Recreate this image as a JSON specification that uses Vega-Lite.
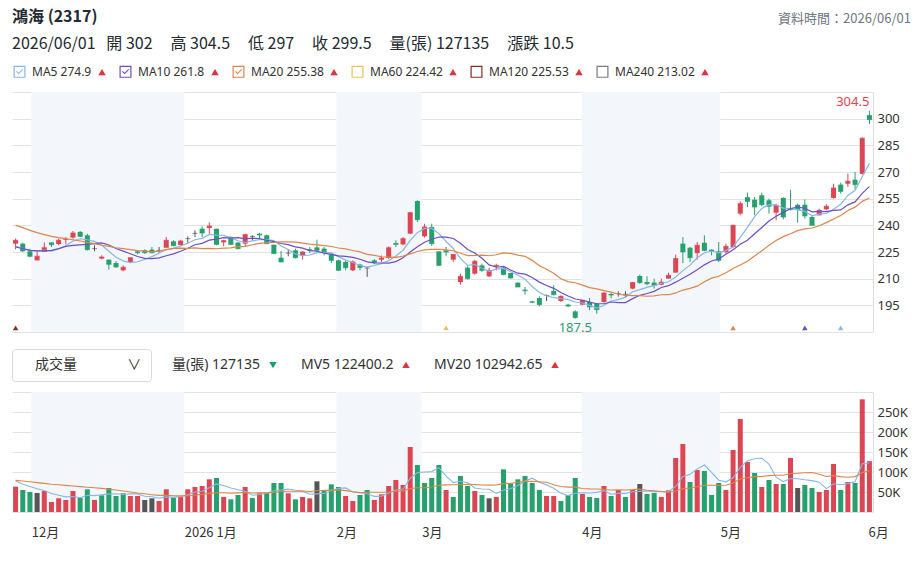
{
"$schema": "https://vega.github.io/schema/vega-lite/v6.json",
"background": "#ffffff",
"padding": {"left": 11, "top": 9, "right": 2, "bottom": 2},
"config": {"font": "Noto Sans CJK TC", "view": {"stroke": null}, "axis": {"labelFont": "Noto Sans", "labelColor": "#333333", "labelFontSize": 13}},
"title": {"text": "鴻海 (2317)", "subtitle": "2026/06/01\u00a0\u00a0\u00a0開 302\u00a0\u00a0\u00a0\u00a0\u00a0高 304.5\u00a0\u00a0\u00a0\u00a0\u00a0低 297\u00a0\u00a0\u00a0\u00a0\u00a0收 299.5\u00a0\u00a0\u00a0\u00a0\u00a0量(張) 127135\u00a0\u00a0\u00a0\u00a0\u00a0漲跌 10.5", "anchor": "start", "frame": "group", "fontSize": 16, "fontWeight": "bold", "color": "#232a31", "subtitleFontSize": 16, "subtitleColor": "#232a31", "subtitlePadding": 11, "offset": -39},
"bounds": "flush",
"spacing": 60,
"resolve": {"scale": {"color": "independent", "fill": "independent", "opacity": "independent", "shape": "independent"}, "legend": {"color": "independent", "opacity": "independent", "shape": "independent"}},
"datasets": {
"bands": [{"i": 2.2, "e": 23.5}, {"i": 44.7, "e": 56.6}, {"i": 78.9, "e": 98.2}],
"tri": [{"i": 0, "ma": "MA120"}, {"i": 60, "ma": "MA60"}, {"i": 100, "ma": "MA20"}, {"i": 110, "ma": "MA10"}, {"i": 115, "ma": "MA5"}],
"ext": [{"i": 119, "p": 304.5, "t": "304.5", "k": "hi"}, {"i": 78, "p": 187.5, "t": "187.5", "k": "lo"}],
"mah": [{"t": "MA5 274.9"}, {"t": "▲a"}, {"t": "MA10 261.8"}, {"t": "▲b"}, {"t": "MA20 255.38"}, {"t": "▲c"}, {"t": "MA60 224.42"}, {"t": "▲d"}, {"t": "MA120 225.53"}, {"t": "▲e"}, {"t": "MA240 213.02"}, {"t": "▲f"}],
"mvh": [{"t": "量(張) 127135"}, {"t": "MV5 122400.2"}, {"t": "MV20 102942.65"}, {"t": "▲"}],
"d": [
{"i":0,"o":229.7,"h":232.5,"l":226.5,"c":231.6,"v":63300,"vd":1,"MA5":228.4,"MA10":227.8,"MA20":240.0,"MV5":77500,"MV20":79000},
{"i":1,"o":229.7,"h":230.2,"l":225.0,"c":225.6,"v":55000,"vd":-1,"MA5":226.9,"MA10":226.9,"MA20":238.7,"MV5":70000,"MV20":77500},
{"i":2,"o":225.4,"h":226.9,"l":222.0,"c":222.6,"v":50000,"vd":-1,"MA5":225.9,"MA10":225.9,"MA20":237.2,"MV5":64000,"MV20":75500},
{"i":3,"o":220.3,"h":225.6,"l":220.3,"c":222.6,"v":47500,"vd":0,"MA5":225.6,"MA10":225.6,"MA20":235.9,"MV5":58000,"MV20":73500},
{"i":4,"o":225.0,"h":230.4,"l":225.0,"c":227.4,"v":52500,"vd":1,"MA5":225.96,"MA10":225.6,"MA20":234.8,"MV5":53700,"MV20":71500},
{"i":5,"o":230.4,"h":230.4,"l":227.8,"c":229.1,"v":25000,"vd":1,"MA5":225.46,"MA10":225.9,"MA20":233.8,"MV5":46000,"MV20":69500},
{"i":6,"o":229.5,"h":232.5,"l":228.8,"c":231.6,"v":34200,"vd":1,"MA5":226.66,"MA10":226.9,"MA20":233.1,"MV5":41800,"MV20":68000},
{"i":7,"o":231.8,"h":233.4,"l":229.3,"c":232.1,"v":30000,"vd":1,"MA5":228.56,"MA10":228.2,"MA20":232.5,"MV5":37800,"MV20":66500},
{"i":8,"o":233.1,"h":236.8,"l":232.5,"c":235.7,"v":52500,"vd":1,"MA5":231.18,"MA10":228.7,"MA20":231.9,"MV5":38800,"MV20":65000},
{"i":9,"o":236.3,"h":236.8,"l":233.4,"c":233.8,"v":35800,"vd":-1,"MA5":232.46,"MA10":228.96,"MA20":231.2,"MV5":35500,"MV20":63500},
{"i":10,"o":234.4,"h":235.3,"l":225.9,"c":226.3,"v":56700,"vd":-1,"MA5":231.9,"MA10":229.28,"MA20":230.4,"MV5":41800,"MV20":62000},
{"i":11,"o":226.9,"h":228.8,"l":225.4,"c":226.9,"v":30000,"vd":1,"MA5":230.96,"MA10":229.76,"MA20":229.7,"MV5":41000,"MV20":60500},
{"i":12,"o":221.3,"h":223.1,"l":220.9,"c":222.2,"v":41700,"vd":-1,"MA5":228.98,"MA10":230.08,"MA20":228.8,"MV5":43300,"MV20":59000},
{"i":13,"o":220.7,"h":220.7,"l":215.1,"c":218.1,"v":60000,"vd":-1,"MA5":225.46,"MA10":228.96,"MA20":228.2,"MV5":44800,"MV20":57000},
{"i":14,"o":218.8,"h":219.9,"l":216.2,"c":216.6,"v":40000,"vd":-1,"MA5":222.02,"MA10":226.96,"MA20":227.4,"MV5":45700,"MV20":55000},
{"i":15,"o":214.7,"h":217.5,"l":214.1,"c":216.4,"v":46700,"vd":-1,"MA5":220.04,"MA10":225.5,"MA20":226.9,"MV5":43700,"MV20":52500},
{"i":16,"o":219.4,"h":221.8,"l":219.4,"c":221.8,"v":40000,"vd":1,"MA5":219.02,"MA10":224.0,"MA20":226.3,"MV5":45700,"MV20":50000},
{"i":17,"o":225.4,"h":225.9,"l":223.7,"c":224.6,"v":40000,"vd":1,"MA5":219.5,"MA10":222.48,"MA20":225.8,"MV5":45300,"MV20":47500},
{"i":18,"o":226.0,"h":226.5,"l":224.0,"c":224.6,"v":30000,"vd":0,"MA5":220.8,"MA10":221.41,"MA20":225.5,"MV5":39300,"MV20":45500},
{"i":19,"o":226.3,"h":227.8,"l":224.2,"c":224.6,"v":34200,"vd":0,"MA5":222.4,"MA10":221.22,"MA20":225.09,"MV5":38200,"MV20":43300},
{"i":20,"o":225.9,"h":227.8,"l":224.4,"c":225.9,"v":27500,"vd":1,"MA5":224.3,"MA10":221.66,"MA20":225.47,"MV5":34300,"MV20":41450},
{"i":21,"o":227.4,"h":233.4,"l":227.4,"c":231.6,"v":56700,"vd":1,"MA5":226.26,"MA10":222.88,"MA20":226.32,"MV5":37700,"MV20":41550},
{"i":22,"o":231.0,"h":231.6,"l":228.2,"c":228.6,"v":35800,"vd":-1,"MA5":227.06,"MA10":223.93,"MA20":227.0,"MV5":36800,"MV20":40800},
{"i":23,"o":228.9,"h":231.9,"l":228.6,"c":231.2,"v":38300,"vd":1,"MA5":228.38,"MA10":225.39,"MA20":227.18,"MV5":38500,"MV20":40350},
{"i":24,"o":232.5,"h":233.8,"l":229.7,"c":232.5,"v":56700,"vd":1,"MA5":229.96,"MA10":227.13,"MA20":227.05,"MV5":43000,"MV20":40600},
{"i":25,"o":235.5,"h":237.2,"l":233.4,"c":235.5,"v":62500,"vd":1,"MA5":231.88,"MA10":229.07,"MA20":227.29,"MV5":50000,"MV20":42450},
{"i":26,"o":238.1,"h":239.4,"l":233.4,"c":235.7,"v":65000,"vd":1,"MA5":232.7,"MA10":229.88,"MA20":226.94,"MV5":51700,"MV20":44000},
{"i":27,"o":238.5,"h":241.7,"l":235.3,"c":239.6,"v":81700,"vd":1,"MA5":234.9,"MA10":231.64,"MA20":227.06,"MV5":60800,"MV20":46550},
{"i":28,"o":238.1,"h":238.1,"l":228.8,"c":229.3,"v":85000,"vd":-1,"MA5":234.52,"MA10":232.24,"MA20":226.83,"MV5":70200,"MV20":48200},
{"i":29,"o":230.4,"h":231.9,"l":228.2,"c":231.4,"v":37500,"vd":1,"MA5":234.3,"MA10":233.09,"MA20":227.16,"MV5":66300,"MV20":48300},
{"i":30,"o":233.4,"h":233.8,"l":228.8,"c":229.3,"v":31700,"vd":-1,"MA5":233.06,"MA10":232.88,"MA20":227.27,"MV5":60200,"MV20":47050},
{"i":31,"o":230.3,"h":230.6,"l":226.5,"c":226.9,"v":42500,"vd":-1,"MA5":231.3,"MA10":233.1,"MA20":227.99,"MV5":55700,"MV20":47700},
{"i":32,"o":229.7,"h":235.3,"l":228.0,"c":234.8,"v":62500,"vd":1,"MA5":230.34,"MA10":232.43,"MA20":228.18,"MV5":51800,"MV20":48700},
{"i":33,"o":233.8,"h":234.4,"l":231.6,"c":233.8,"v":35000,"vd":-1,"MA5":231.24,"MA10":232.77,"MA20":229.08,"MV5":41800,"MV20":47450},
{"i":34,"o":235.3,"h":235.7,"l":232.5,"c":234.6,"v":46700,"vd":1,"MA5":231.88,"MA10":232.47,"MA20":229.8,"MV5":43700,"MV20":47800},
{"i":35,"o":234.4,"h":234.8,"l":229.7,"c":229.7,"v":48300,"vd":-1,"MA5":231.96,"MA10":231.63,"MA20":230.35,"MV5":47000,"MV20":47900},
{"i":36,"o":229.1,"h":229.1,"l":224.1,"c":224.1,"v":72500,"vd":-1,"MA5":231.4,"MA10":230.87,"MA20":230.38,"MV5":53000,"MV20":49500},
{"i":37,"o":221.8,"h":225.6,"l":219.4,"c":219.4,"v":72500,"vd":-1,"MA5":228.32,"MA10":229.78,"MA20":230.71,"MV5":55000,"MV20":51100},
{"i":38,"o":224.4,"h":226.3,"l":222.6,"c":224.4,"v":46700,"vd":1,"MA5":226.44,"MA10":229.16,"MA20":230.7,"MV5":57300,"MV20":51950},
{"i":39,"o":225.9,"h":226.9,"l":221.3,"c":221.8,"v":31700,"vd":-1,"MA5":223.88,"MA10":227.92,"MA20":230.51,"MV5":54300,"MV20":51800},
{"i":40,"o":223.1,"h":225.4,"l":220.7,"c":225.0,"v":37500,"vd":1,"MA5":222.94,"MA10":227.17,"MA20":230.03,"MV5":52200,"MV20":52350},
{"i":41,"o":226.5,"h":227.8,"l":224.4,"c":226.0,"v":34200,"vd":1,"MA5":223.32,"MA10":225.82,"MA20":229.46,"MV5":44500,"MV20":51200},
{"i":42,"o":227.6,"h":231.9,"l":225.0,"c":226.0,"v":76700,"vd":0,"MA5":224.64,"MA10":225.54,"MA20":228.99,"MV5":45400,"MV20":53250},
{"i":43,"o":226.9,"h":227.8,"l":223.1,"c":225.0,"v":52500,"vd":-1,"MA5":224.76,"MA10":224.32,"MA20":228.55,"MV5":46500,"MV20":53950},
{"i":44,"o":223.7,"h":224.1,"l":218.8,"c":220.3,"v":69200,"vd":-1,"MA5":224.46,"MA10":223.7,"MA20":228.09,"MV5":54000,"MV20":54600},
{"i":45,"o":220.3,"h":220.7,"l":214.3,"c":214.7,"v":62500,"vd":-1,"MA5":222.4,"MA10":222.86,"MA20":227.25,"MV5":59000,"MV20":54600},
{"i":46,"o":219.4,"h":220.3,"l":214.7,"c":216.2,"v":40000,"vd":1,"MA5":220.44,"MA10":222.54,"MA20":226.71,"MV5":60200,"MV20":53350},
{"i":47,"o":214.7,"h":220.3,"l":214.3,"c":219.4,"v":27500,"vd":1,"MA5":219.12,"MA10":221.94,"MA20":225.86,"MV5":50300,"MV20":50600},
{"i":48,"o":217.9,"h":218.4,"l":214.7,"c":216.3,"v":42500,"vd":-1,"MA5":217.38,"MA10":220.92,"MA20":225.04,"MV5":48300,"MV20":48500},
{"i":49,"o":216.0,"h":216.8,"l":211.0,"c":216.0,"v":55000,"vd":-1,"MA5":216.52,"MA10":219.46,"MA20":223.69,"MV5":45500,"MV20":49400},
{"i":50,"o":220.3,"h":221.1,"l":218.1,"c":219.2,"v":30000,"vd":1,"MA5":217.42,"MA10":218.93,"MA20":223.05,"MV5":39000,"MV20":49300},
{"i":51,"o":220.7,"h":223.0,"l":219.4,"c":221.6,"v":44200,"vd":1,"MA5":218.5,"MA10":218.81,"MA20":222.32,"MV5":39800,"MV20":49400},
{"i":52,"o":221.6,"h":228.2,"l":221.1,"c":227.4,"v":65000,"vd":1,"MA5":220.1,"MA10":218.74,"MA20":222.14,"MV5":47300,"MV20":49500},
{"i":53,"o":230.0,"h":231.6,"l":227.8,"c":229.3,"v":80000,"vd":1,"MA5":222.7,"MA10":219.61,"MA20":221.97,"MV5":54800,"MV20":51700},
{"i":54,"o":229.3,"h":233.4,"l":228.8,"c":232.5,"v":67500,"vd":1,"MA5":226.0,"MA10":221.71,"MA20":222.71,"MV5":57300,"MV20":52800},
{"i":55,"o":235.3,"h":247.5,"l":235.3,"c":247.1,"v":162500,"vd":1,"MA5":231.58,"MA10":225.04,"MA20":223.95,"MV5":83800,"MV20":58500},
{"i":56,"o":253.7,"h":254.1,"l":241.9,"c":243.2,"v":117500,"vd":-1,"MA5":235.9,"MA10":228.0,"MA20":225.27,"MV5":98500,"MV20":60750},
{"i":57,"o":233.8,"h":240.9,"l":233.1,"c":239.1,"v":72500,"vd":-1,"MA5":238.24,"MA10":230.47,"MA20":226.21,"MV5":100000,"MV20":60750},
{"i":58,"o":239.1,"h":240.9,"l":228.4,"c":229.7,"v":85000,"vd":-1,"MA5":238.32,"MA10":232.16,"MA20":226.54,"MV5":101000,"MV20":62650},
{"i":59,"o":225.4,"h":225.4,"l":217.1,"c":217.5,"v":117500,"vd":-1,"MA5":235.32,"MA10":233.45,"MA20":226.46,"MV5":111000,"MV20":66950},
{"i":60,"o":225.9,"h":227.8,"l":222.6,"c":225.0,"v":55000,"vd":1,"MA5":230.9,"MA10":233.4,"MA20":226.17,"MV5":89500,"MV20":67800},
{"i":61,"o":220.7,"h":223.7,"l":219.4,"c":223.7,"v":37500,"vd":-1,"MA5":227.0,"MA10":232.62,"MA20":225.72,"MV5":73500,"MV20":68000},
{"i":62,"o":208.1,"h":212.8,"l":206.6,"c":211.3,"v":90000,"vd":-1,"MA5":221.44,"MA10":229.88,"MA20":224.31,"MV5":77000,"MV20":68650},
{"i":63,"o":216.2,"h":216.9,"l":209.6,"c":210.0,"v":65000,"vd":-1,"MA5":217.5,"MA10":226.41,"MA20":223.01,"MV5":73000,"MV20":69300},
{"i":64,"o":212.8,"h":220.7,"l":212.3,"c":219.8,"v":52500,"vd":1,"MA5":217.96,"MA10":224.43,"MA20":223.07,"MV5":60000,"MV20":68450},
{"i":65,"o":217.5,"h":218.4,"l":213.8,"c":214.7,"v":42500,"vd":-1,"MA5":215.9,"MA10":221.45,"MA20":223.25,"MV5":57500,"MV20":67450},
{"i":66,"o":211.3,"h":216.2,"l":210.9,"c":214.7,"v":34200,"vd":0,"MA5":214.1,"MA10":217.77,"MA20":222.89,"MV5":56800,"MV20":67150},
{"i":67,"o":216.8,"h":218.4,"l":214.7,"c":217.5,"v":37500,"vd":1,"MA5":215.34,"MA10":216.42,"MA20":223.45,"MV5":46300,"MV20":67650},
{"i":68,"o":216.2,"h":216.9,"l":211.9,"c":212.3,"v":106700,"vd":-1,"MA5":215.8,"MA10":216.88,"MA20":224.52,"MV5":54700,"MV20":70900},
{"i":69,"o":213.2,"h":213.2,"l":210.0,"c":210.4,"v":71700,"vd":-1,"MA5":213.92,"MA10":214.91,"MA20":224.18,"MV5":58500,"MV20":71700},
{"i":70,"o":207.8,"h":207.8,"l":205.3,"c":205.3,"v":81700,"vd":-1,"MA5":212.04,"MA10":213.07,"MA20":223.24,"MV5":66400,"MV20":74300},
{"i":71,"o":203.8,"h":205.3,"l":201.0,"c":203.2,"v":90000,"vd":-1,"MA5":209.74,"MA10":212.54,"MA20":222.58,"MV5":77500,"MV20":76600},
{"i":72,"o":197.2,"h":197.5,"l":196.3,"c":196.7,"v":72500,"vd":-1,"MA5":205.58,"MA10":210.69,"MA20":220.29,"MV5":84500,"MV20":76950},
{"i":73,"o":199.1,"h":200.1,"l":194.4,"c":195.4,"v":55000,"vd":-1,"MA5":202.2,"MA10":208.06,"MA20":217.24,"MV5":74200,"MV20":75700},
{"i":74,"o":200.6,"h":201.0,"l":197.4,"c":200.6,"v":40000,"vd":1,"MA5":200.24,"MA10":206.14,"MA20":215.29,"MV5":67800,"MV20":74300},
{"i":75,"o":203.1,"h":206.3,"l":200.6,"c":201.0,"v":40000,"vd":1,"MA5":199.38,"MA10":204.56,"MA20":213.01,"MV5":59500,"MV20":68200},
{"i":76,"o":197.4,"h":200.6,"l":196.9,"c":200.1,"v":27500,"vd":-1,"MA5":198.76,"MA10":202.17,"MA20":209.97,"MV5":47000,"MV20":63700},
{"i":77,"o":195.4,"h":195.9,"l":194.1,"c":194.6,"v":42500,"vd":-1,"MA5":198.34,"MA10":200.27,"MA20":208.35,"MV5":41000,"MV20":62200},
{"i":78,"o":191.6,"h":192.2,"l":187.5,"c":188.1,"v":85000,"vd":-1,"MA5":196.88,"MA10":198.56,"MA20":207.72,"MV5":47000,"MV20":62200},
{"i":79,"o":195.4,"h":198.2,"l":195.0,"c":197.8,"v":45000,"vd":1,"MA5":196.32,"MA10":197.85,"MA20":206.38,"MV5":48000,"MV20":58600},
{"i":80,"o":196.9,"h":199.1,"l":192.2,"c":194.1,"v":37500,"vd":-1,"MA5":194.94,"MA10":196.85,"MA20":204.96,"MV5":47500,"MV20":57700},
{"i":81,"o":195.9,"h":196.3,"l":190.3,"c":192.6,"v":35000,"vd":-1,"MA5":193.44,"MA10":195.89,"MA20":204.22,"MV5":49000,"MV20":57600},
{"i":82,"o":196.9,"h":202.5,"l":196.5,"c":201.9,"v":65000,"vd":1,"MA5":194.9,"MA10":195.89,"MA20":203.29,"MV5":53500,"MV20":56300},
{"i":83,"o":201.4,"h":201.9,"l":198.9,"c":200.8,"v":40000,"vd":-1,"MA5":197.44,"MA10":196.88,"MA20":202.47,"MV5":44500,"MV20":55100},
{"i":84,"o":201.6,"h":202.9,"l":199.9,"c":201.6,"v":55000,"vd":1,"MA5":198.2,"MA10":196.57,"MA20":201.36,"MV5":46500,"MV20":55200},
{"i":85,"o":201.2,"h":202.9,"l":199.3,"c":201.2,"v":37500,"vd":-1,"MA5":199.62,"MA10":196.53,"MA20":200.55,"MV5":46500,"MV20":55000},
{"i":86,"o":204.4,"h":208.1,"l":204.0,"c":207.8,"v":55000,"vd":1,"MA5":202.66,"MA10":198.78,"MA20":200.48,"MV5":50500,"MV20":56000},
{"i":87,"o":211.5,"h":212.3,"l":207.2,"c":207.8,"v":70000,"vd":0,"MA5":203.84,"MA10":200.64,"MA20":200.46,"MV5":51500,"MV20":57600},
{"i":88,"o":208.1,"h":211.3,"l":206.3,"c":207.2,"v":45000,"vd":-1,"MA5":205.12,"MA10":201.66,"MA20":200.11,"MV5":52500,"MV20":54550},
{"i":89,"o":207.8,"h":210.0,"l":204.4,"c":206.3,"v":47500,"vd":-1,"MA5":206.06,"MA10":202.84,"MA20":200.35,"MV5":51000,"MV20":53300},
{"i":90,"o":206.6,"h":210.0,"l":206.3,"c":208.1,"v":37500,"vd":1,"MA5":207.44,"MA10":205.05,"MA20":200.95,"MV5":51000,"MV20":51100},
{"i":91,"o":210.0,"h":213.4,"l":210.0,"c":211.9,"v":54200,"vd":1,"MA5":208.26,"MA10":206.05,"MA20":200.97,"MV5":50800,"MV20":49300},
{"i":92,"o":213.4,"h":223.5,"l":213.4,"c":221.3,"v":135000,"vd":1,"MA5":210.96,"MA10":208.04,"MA20":201.97,"MV5":63800,"MV20":52450},
{"i":93,"o":229.7,"h":233.4,"l":218.8,"c":225.0,"v":170000,"vd":1,"MA5":214.52,"MA10":210.29,"MA20":203.59,"MV5":88800,"MV20":58200},
{"i":94,"o":227.4,"h":227.8,"l":219.4,"c":221.8,"v":75000,"vd":-1,"MA5":217.62,"MA10":212.53,"MA20":204.55,"MV5":94300,"MV20":59950},
{"i":95,"o":224.4,"h":230.6,"l":220.7,"c":228.8,"v":105000,"vd":1,"MA5":221.76,"MA10":215.01,"MA20":205.77,"MV5":107800,"MV20":63200},
{"i":96,"o":230.2,"h":234.4,"l":225.4,"c":225.9,"v":102500,"vd":-1,"MA5":224.56,"MA10":217.76,"MA20":208.27,"MV5":117500,"MV20":66950},
{"i":97,"o":226.3,"h":226.5,"l":223.1,"c":225.6,"v":42500,"vd":-1,"MA5":225.42,"MA10":219.97,"MA20":210.31,"MV5":99000,"MV20":66950},
{"i":98,"o":225.4,"h":230.6,"l":219.4,"c":220.3,"v":72500,"vd":-1,"MA5":224.48,"MA10":221.05,"MA20":211.36,"MV5":79500,"MV20":66300},
{"i":99,"o":225.0,"h":229.7,"l":224.1,"c":228.2,"v":55000,"vd":1,"MA5":225.76,"MA10":223.76,"MA20":213.3,"MV5":75500,"MV20":66800},
{"i":100,"o":227.8,"h":240.4,"l":227.4,"c":240.0,"v":155000,"vd":1,"MA5":228.0,"MA10":226.28,"MA20":215.67,"MV5":85500,"MV20":72700},
{"i":101,"o":246.6,"h":253.5,"l":245.6,"c":252.2,"v":232500,"vd":1,"MA5":233.26,"MA10":229.34,"MA20":217.7,"MV5":111500,"MV20":82600},
{"i":102,"o":255.8,"h":258.4,"l":250.3,"c":253.5,"v":125000,"vd":1,"MA5":238.84,"MA10":231.66,"MA20":219.85,"MV5":128000,"MV20":85600},
{"i":103,"o":254.4,"h":255.9,"l":245.6,"c":250.3,"v":97500,"vd":-1,"MA5":244.84,"MA10":235.3,"MA20":222.8,"MV5":133000,"MV20":88450},
{"i":104,"o":256.9,"h":258.4,"l":250.7,"c":251.6,"v":62500,"vd":1,"MA5":249.52,"MA10":238.76,"MA20":225.65,"MV5":134500,"MV20":88800},
{"i":105,"o":254.1,"h":255.0,"l":246.6,"c":250.7,"v":80000,"vd":-1,"MA5":251.66,"MA10":242.46,"MA20":228.74,"MV5":119500,"MV20":90950},
{"i":106,"o":247.1,"h":252.2,"l":242.8,"c":251.3,"v":70000,"vd":1,"MA5":251.48,"MA10":245.16,"MA20":231.46,"MV5":87000,"MV20":91700},
{"i":107,"o":255.4,"h":255.8,"l":243.4,"c":244.7,"v":70000,"vd":-1,"MA5":249.72,"MA10":247.28,"MA20":233.63,"MV5":76000,"MV20":91700},
{"i":108,"o":249.7,"h":260.0,"l":248.4,"c":248.8,"v":135000,"vd":1,"MA5":249.42,"MA10":249.47,"MA20":235.26,"MV5":83500,"MV20":96200},
{"i":109,"o":251.6,"h":252.2,"l":241.5,"c":248.8,"v":60000,"vd":0,"MA5":248.86,"MA10":250.26,"MA20":237.01,"MV5":83000,"MV20":96800},
{"i":110,"o":251.6,"h":254.6,"l":243.8,"c":245.3,"v":67500,"vd":-1,"MA5":247.78,"MA10":249.63,"MA20":237.96,"MV5":80500,"MV20":98300},
{"i":111,"o":244.7,"h":245.3,"l":240.0,"c":240.0,"v":60000,"vd":-1,"MA5":245.52,"MA10":247.62,"MA20":238.48,"MV5":78500,"MV20":98600},
{"i":112,"o":245.6,"h":249.4,"l":245.6,"c":248.4,"v":50000,"vd":1,"MA5":246.26,"MA10":247.84,"MA20":239.75,"MV5":74500,"MV20":94400},
{"i":113,"o":249.0,"h":251.8,"l":248.4,"c":250.7,"v":55000,"vd":1,"MA5":246.64,"MA10":247.75,"MA20":241.53,"MV5":58500,"MV20":88600},
{"i":114,"o":255.4,"h":263.4,"l":255.0,"c":261.0,"v":120000,"vd":1,"MA5":249.08,"MA10":248.43,"MA20":243.6,"MV5":70500,"MV20":90900},
{"i":115,"o":262.9,"h":264.0,"l":257.8,"c":259.1,"v":55000,"vd":-1,"MA5":251.84,"MA10":248.68,"MA20":245.57,"MV5":68000,"MV20":88400},
{"i":116,"o":263.4,"h":269.1,"l":261.6,"c":264.8,"v":75000,"vd":1,"MA5":256.8,"MA10":251.53,"MA20":248.35,"MV5":71000,"MV20":87000},
{"i":117,"o":265.7,"h":270.0,"l":260.2,"c":262.9,"v":72500,"vd":-1,"MA5":259.7,"MA10":253.17,"MA20":250.23,"MV5":75500,"MV20":88500},
{"i":118,"o":269.0,"h":289.5,"l":268.7,"c":289.0,"v":281700,"vd":1,"MA5":267.36,"MA10":258.0,"MA20":253.5,"MV5":120800,"MV20":98950},
{"i":119,"o":302.0,"h":304.5,"l":297.0,"c":299.5,"v":127135,"vd":1,"MA5":274.9,"MA10":261.8,"MA20":255.38,"MV5":122400.2,"MV20":102942.65}
]
},
"vconcat": [
{
"width": 861, "height": 240,
"title": {"text": "資料時間：2026/06/01", "anchor": "end", "frame": "group", "fontSize": 13, "fontWeight": "normal", "color": "#6e7780", "dx": 38, "offset": 39},
"resolve": {"scale": {"color": "independent", "shape": "independent"}},
"encoding": {"x": {"field": "i", "type": "quantitative", "scale": {"domain": [-0.5, 119.5], "nice": false, "zero": false, "padding": 0}, "axis": null}},
"layer": [
{"data": {"name": "bands"}, "mark": {"type": "rect", "color": "#f3f6fa"}, "encoding": {"x2": {"field": "e"}}},
{"data": {"values": [{}]}, "mark": {"type": "text", "text": "yahoo!", "align": "left", "baseline": "middle", "font": "Liberation Sans", "fontSize": 29, "fontWeight": "bold", "fontStyle": "italic", "color": "#dcdfe3"}, "encoding": {"x": {"datum": 1.0}, "y": {"datum": 303, "type": "quantitative", "scale": {"domain": [180, 315], "nice": false, "zero": false}, "axis": {"orient": "right", "title": null, "values": [180, 195, 210, 225, 240, 255, 270, 285, 300, 315], "labelExpr": "datum.value < 190 || datum.value > 310 ? '' : datum.label", "labelOverlap": false, "grid": true, "gridColor": "#e3e3e3", "ticks": false, "domain": true, "domainColor": "#e0e0e0", "labelPadding": 4}}}},
{"data": {"values": [{}]}, "mark": {"type": "text", "text": "股市", "align": "left", "baseline": "middle", "fontSize": 19, "color": "#d8dbe0"}, "encoding": {"x": {"datum": 14.6}, "y": {"datum": 303.5, "type": "quantitative", "scale": {"domain": [180, 315], "nice": false, "zero": false}, "axis": {"orient": "right", "title": null, "values": [180, 195, 210, 225, 240, 255, 270, 285, 300, 315], "labelExpr": "datum.value < 190 || datum.value > 310 ? '' : datum.label", "labelOverlap": false, "grid": true, "gridColor": "#e3e3e3", "ticks": false, "domain": true, "domainColor": "#e0e0e0", "labelPadding": 4}}}},
{"data": {"name": "d"}, "mark": {"type": "rule", "strokeWidth": 1}, "encoding": {
"y": {"field": "l", "type": "quantitative", "scale": {"domain": [180, 315], "nice": false, "zero": false}, "axis": {"orient": "right", "title": null, "values": [180, 195, 210, 225, 240, 255, 270, 285, 300, 315], "labelExpr": "datum.value < 190 || datum.value > 310 ? '' : datum.label", "labelOverlap": false, "grid": true, "gridColor": "#e3e3e3", "ticks": false, "domain": true, "domainColor": "#e0e0e0", "labelPadding": 4}},
"y2": {"field": "h"},
"color": {"condition": [{"test": "datum.c > datum.o", "value": "#dc4653"}, {"test": "datum.c < datum.o", "value": "#26a06c"}], "value": "#555555"}}},
{"data": {"name": "d"}, "mark": {"type": "bar", "size": 5}, "encoding": {
"y": {"field": "o", "type": "quantitative", "scale": {"domain": [180, 315], "nice": false, "zero": false}, "axis": {"orient": "right", "title": null, "values": [180, 195, 210, 225, 240, 255, 270, 285, 300, 315], "labelExpr": "datum.value < 190 || datum.value > 310 ? '' : datum.label", "labelOverlap": false, "grid": true, "gridColor": "#e3e3e3", "ticks": false, "domain": true, "domainColor": "#e0e0e0", "labelPadding": 4}}, "y2": {"field": "c"},
"color": {"condition": [{"test": "datum.c > datum.o", "value": "#dc4653"}, {"test": "datum.c < datum.o", "value": "#26a06c"}], "value": "#555555"}}},
{"data": {"name": "d"}, "mark": {"type": "tick", "orient": "horizontal", "size": 5, "thickness": 1}, "encoding": {
"y": {"field": "c", "type": "quantitative", "scale": {"domain": [180, 315], "nice": false, "zero": false}, "axis": {"orient": "right", "title": null, "values": [180, 195, 210, 225, 240, 255, 270, 285, 300, 315], "labelExpr": "datum.value < 190 || datum.value > 310 ? '' : datum.label", "labelOverlap": false, "grid": true, "gridColor": "#e3e3e3", "ticks": false, "domain": true, "domainColor": "#e0e0e0", "labelPadding": 4}},
"color": {"condition": [{"test": "datum.c > datum.o", "value": "#dc4653"}, {"test": "datum.c < datum.o", "value": "#26a06c"}], "value": "#555555"}}},
{"data": {"name": "d"}, "transform": [{"fold": ["MA5", "MA10", "MA20"], "as": ["k", "val"]}], "mark": {"type": "line", "strokeWidth": 1.2}, "encoding": {
"y": {"field": "val", "type": "quantitative", "scale": {"domain": [180, 315], "nice": false, "zero": false}, "axis": {"orient": "right", "title": null, "values": [180, 195, 210, 225, 240, 255, 270, 285, 300, 315], "labelExpr": "datum.value < 190 || datum.value > 310 ? '' : datum.label", "labelOverlap": false, "grid": true, "gridColor": "#e3e3e3", "ticks": false, "domain": true, "domainColor": "#e0e0e0", "labelPadding": 4}},
"color": {"field": "k", "type": "nominal", "scale": {"domain": ["MA5", "MA10", "MA20"], "range": ["#86b7e8", "#6b4fc8", "#e0854a"]}, "legend": null}}},
{"data": {"name": "mah"}, "mark": {"type": "point", "filled": true, "opacity": 0, "size": 144}, "encoding": {
"x": {"datum": 0},
"y": {"datum": 200, "type": "quantitative", "scale": {"domain": [180, 315], "nice": false, "zero": false}, "axis": {"orient": "right", "title": null, "values": [180, 195, 210, 225, 240, 255, 270, 285, 300, 315], "labelExpr": "datum.value < 190 || datum.value > 310 ? '' : datum.label", "labelOverlap": false, "grid": true, "gridColor": "#e3e3e3", "ticks": false, "domain": true, "domainColor": "#e0e0e0", "labelPadding": 4}},
"shape": {"field": "t", "type": "nominal", "scale": {"domain": ["MA5 274.9", "▲a", "MA10 261.8", "▲b", "MA20 255.38", "▲c", "MA60 224.42", "▲d", "MA120 225.53", "▲e", "MA240 213.02", "▲f"], "range": ["M-1,-1H1V1H-1Z M-0.8,-0.8V0.8H0.8V-0.8Z M-0.58,0.0L-0.15,0.42L0.6,-0.33L0.47,-0.46L-0.15,0.16L-0.45,-0.13Z", "M0,-0.55L0.62,0.5L-0.62,0.5Z", "M-1,-1H1V1H-1Z M-0.8,-0.8V0.8H0.8V-0.8Z M-0.58,0.0L-0.15,0.42L0.6,-0.33L0.47,-0.46L-0.15,0.16L-0.45,-0.13Z", "M0,-0.55L0.62,0.5L-0.62,0.5Z", "M-1,-1H1V1H-1Z M-0.8,-0.8V0.8H0.8V-0.8Z M-0.58,0.0L-0.15,0.42L0.6,-0.33L0.47,-0.46L-0.15,0.16L-0.45,-0.13Z", "M0,-0.55L0.62,0.5L-0.62,0.5Z", "M-1,-1H1V1H-1Z M-0.8,-0.8V0.8H0.8V-0.8Z", "M0,-0.55L0.62,0.5L-0.62,0.5Z", "M-1,-1H1V1H-1Z M-0.8,-0.8V0.8H0.8V-0.8Z", "M0,-0.55L0.62,0.5L-0.62,0.5Z", "M-1,-1H1V1H-1Z M-0.8,-0.8V0.8H0.8V-0.8Z", "M0,-0.55L0.62,0.5L-0.62,0.5Z"]},
"legend": {"orient": "none", "legendX": 1, "legendY": -27, "direction": "horizontal", "title": null, "symbolSize": 144, "symbolOpacity": 1, "symbolStrokeWidth": 0.4, "labelFont": "Noto Sans, Noto Sans CJK TC", "labelFontSize": 12, "labelColor": "#333333", "labelOffset": 6, "columnPadding": 3.5, "padding": 0, "labelLimit": 0, "labelExpr": "indexof(datum.label, '▲') == 0 ? '' : datum.label"}},
"color": {"field": "t", "type": "nominal", "scale": {"domain": ["MA5 274.9", "▲a", "MA10 261.8", "▲b", "MA20 255.38", "▲c", "MA60 224.42", "▲d", "MA120 225.53", "▲e", "MA240 213.02", "▲f"], "range": ["#86b7e8", "#e3323f", "#6b4fc8", "#e3323f", "#e0854a", "#e3323f", "#e8c35d", "#e3323f", "#8e2b1c", "#e3323f", "#7b7b7b", "#e3323f"]},
"legend": {"orient": "none", "legendX": 1, "legendY": -27, "direction": "horizontal", "title": null, "symbolSize": 144, "symbolOpacity": 1, "symbolStrokeWidth": 0.4, "labelFont": "Noto Sans, Noto Sans CJK TC", "labelFontSize": 12, "labelColor": "#333333", "labelOffset": 6, "columnPadding": 3.5, "padding": 0, "labelLimit": 0, "labelExpr": "indexof(datum.label, '▲') == 0 ? '' : datum.label"}}}},
{"data": {"name": "tri"}, "mark": {"type": "point", "shape": "triangle-up", "filled": true, "size": 30, "opacity": 1}, "encoding": {
"y": {"datum": 182.3, "type": "quantitative", "scale": {"domain": [180, 315], "nice": false, "zero": false}, "axis": {"orient": "right", "title": null, "values": [180, 195, 210, 225, 240, 255, 270, 285, 300, 315], "labelExpr": "datum.value < 190 || datum.value > 310 ? '' : datum.label", "labelOverlap": false, "grid": true, "gridColor": "#e3e3e3", "ticks": false, "domain": true, "domainColor": "#e0e0e0", "labelPadding": 4}},
"fill": {"field": "ma", "type": "nominal", "scale": {"domain": ["MA5", "MA10", "MA20", "MA60", "MA120", "MA240"], "range": ["#86b7e8", "#6b4fc8", "#e0854a", "#e8c35d", "#8e2b1c", "#7b7b7b"]}, "legend": null}}},
{"data": {"name": "ext"}, "transform": [{"filter": "datum.k == 'hi'"}], "mark": {"type": "text", "align": "right", "baseline": "bottom", "dy": -2, "fontSize": 13, "font": "Noto Sans", "color": "#e8404f"}, "encoding": {"y": {"field": "p", "type": "quantitative", "scale": {"domain": [180, 315], "nice": false, "zero": false}, "axis": {"orient": "right", "title": null, "values": [180, 195, 210, 225, 240, 255, 270, 285, 300, 315], "labelExpr": "datum.value < 190 || datum.value > 310 ? '' : datum.label", "labelOverlap": false, "grid": true, "gridColor": "#e3e3e3", "ticks": false, "domain": true, "domainColor": "#e0e0e0", "labelPadding": 4}}, "text": {"field": "t"}}},
{"data": {"name": "ext"}, "transform": [{"filter": "datum.k == 'lo'"}], "mark": {"type": "text", "align": "center", "baseline": "top", "dy": 3, "fontSize": 13, "font": "Noto Sans", "color": "#2a9d6f"}, "encoding": {"y": {"field": "p", "type": "quantitative", "scale": {"domain": [180, 315], "nice": false, "zero": false}, "axis": {"orient": "right", "title": null, "values": [180, 195, 210, 225, 240, 255, 270, 285, 300, 315], "labelExpr": "datum.value < 190 || datum.value > 310 ? '' : datum.label", "labelOverlap": false, "grid": true, "gridColor": "#e3e3e3", "ticks": false, "domain": true, "domainColor": "#e0e0e0", "labelPadding": 4}}, "text": {"field": "t"}}}
]
},
{
"width": 861, "height": 120,
"resolve": {"scale": {"color": "independent", "shape": "independent"}},
"encoding": {"x": {"field": "i", "type": "quantitative", "scale": {"domain": [-0.5, 119.5], "nice": false, "zero": false, "padding": 0}, "axis": {"title": null, "values": [2.2, 23.5, 44.7, 56.6, 78.9, 98.2, 118.8], "labelExpr": "datum.value < 10 ? '12月' : datum.value < 30 ? '2026 1月' : datum.value < 50 ? '2月' : datum.value < 70 ? '3月' : datum.value < 90 ? '4月' : datum.value < 110 ? '5月' : '6月'", "labelAlign": "left", "labelFlush": false, "labelOverlap": false, "labelFont": "Noto Sans CJK TC", "grid": false, "ticks": false, "domain": false, "labelPadding": 14}}},
"layer": [
{"data": {"name": "bands"}, "mark": {"type": "rect", "color": "#f3f6fa"}, "encoding": {"x2": {"field": "e"},
"opacity": {"datum": "box", "type": "nominal", "scale": {"domain": ["box"], "range": [1]},
"legend": {"orient": "none", "legendX": 0, "legendY": -43, "title": null, "symbolType": "circle", "symbolSize": 0.1, "symbolOpacity": 0, "symbolStrokeWidth": 0, "labelOffset": 0, "labelFont": "Noto Sans CJK TC", "labelFontSize": 14, "labelColor": "#333333", "strokeColor": "#d9d9d9", "cornerRadius": 3, "padding": 9, "labelLimit": 0, "labelExpr": "'\u00a0\u00a0成交量\u00a0\u00a0\u00a0\u00a0\u00a0\u00a0\u00a0\u00a0\u00a0\u00a0\u00a0\u00a0\u00a0\u00a0\u00a0\u00a0∨\u00a0\u00a0\u00a0\u00a0\u00a0\u00a0\u00a0'"}}}},
{"data": {"name": "d"}, "mark": {"type": "bar", "size": 5}, "encoding": {
"y": {"field": "v", "type": "quantitative", "scale": {"domain": [0, 300000], "nice": false}, "axis": {"orient": "right", "title": null, "values": [0, 50000, 100000, 150000, 200000, 250000, 300000], "labelExpr": "datum.value == 0 || datum.value == 300000 ? '' : (datum.value / 1000) + 'K'", "labelOverlap": false, "grid": true, "gridColor": "#e3e3e3", "ticks": false, "domain": true, "domainColor": "#e0e0e0", "labelPadding": 4}},
"color": {"condition": [{"test": "datum.vd > 0", "value": "#dc4653"}, {"test": "datum.vd < 0", "value": "#26a06c"}], "value": "#555555"}}},
{"data": {"name": "d"}, "transform": [{"fold": ["MV5", "MV20"], "as": ["k", "val"]}], "mark": {"type": "line", "strokeWidth": 1.1}, "encoding": {
"y": {"field": "val", "type": "quantitative", "scale": {"domain": [0, 300000], "nice": false}, "axis": {"orient": "right", "title": null, "values": [0, 50000, 100000, 150000, 200000, 250000, 300000], "labelExpr": "datum.value == 0 || datum.value == 300000 ? '' : (datum.value / 1000) + 'K'", "labelOverlap": false, "grid": true, "gridColor": "#e3e3e3", "ticks": false, "domain": true, "domainColor": "#e0e0e0", "labelPadding": 4}},
"color": {"field": "k", "type": "nominal", "scale": {"domain": ["MV5", "MV20"], "range": ["#86b7e8", "#e0854a"]}, "legend": null}}},
{"data": {"name": "mvh"}, "mark": {"type": "point", "filled": true, "opacity": 0, "size": 144}, "encoding": {
"x": {"datum": 0},
"y": {"datum": 0, "type": "quantitative", "scale": {"domain": [0, 300000], "nice": false}, "axis": {"orient": "right", "title": null, "values": [0, 50000, 100000, 150000, 200000, 250000, 300000], "labelExpr": "datum.value == 0 || datum.value == 300000 ? '' : (datum.value / 1000) + 'K'", "labelOverlap": false, "grid": true, "gridColor": "#e3e3e3", "ticks": false, "domain": true, "domainColor": "#e0e0e0", "labelPadding": 4}},
"shape": {"field": "t", "type": "nominal", "scale": {"domain": ["量(張) 127135", "MV5 122400.2", "MV20 102942.65", "▲"], "range": ["circle", "M0,0.55L0.62,-0.5L-0.62,-0.5Z", "M0,-0.55L0.62,0.5L-0.62,0.5Z", "M0,-0.55L0.62,0.5L-0.62,0.5Z"]},
"legend": {"orient": "none", "legendX": 125, "legendY": -34, "direction": "horizontal", "title": null, "symbolSize": 144, "symbolOpacity": 1, "symbolStrokeWidth": 0.4, "labelOffset": 21, "columnPadding": 5, "padding": 0, "labelFont": "Noto Sans, Noto Sans CJK TC", "labelFontSize": 14, "labelColor": "#333333", "labelLimit": 0, "labelExpr": "datum.label == '▲' ? '' : datum.label"}},
"color": {"field": "t", "type": "nominal", "scale": {"domain": ["量(張) 127135", "MV5 122400.2", "MV20 102942.65", "▲"], "range": ["#ffffff", "#1e9e68", "#e3323f", "#e3323f"]},
"legend": {"orient": "none", "legendX": 125, "legendY": -34, "direction": "horizontal", "title": null, "symbolSize": 144, "symbolOpacity": 1, "symbolStrokeWidth": 0.4, "labelOffset": 21, "columnPadding": 5, "padding": 0, "labelFont": "Noto Sans, Noto Sans CJK TC", "labelFontSize": 14, "labelColor": "#333333", "labelLimit": 0, "labelExpr": "datum.label == '▲' ? '' : datum.label"}}}}
]
}
]
}
